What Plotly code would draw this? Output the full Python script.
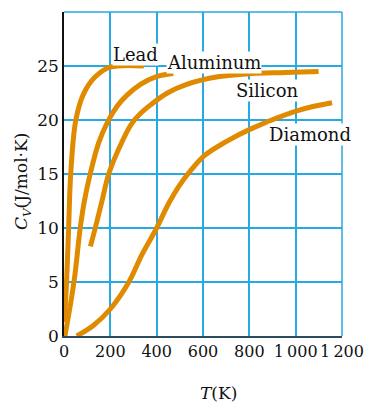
import plotly.graph_objects as go

# Data (T in K, C_V in J/mol·K)
lead_T = [1, 11, 20, 29, 51, 84, 135, 200, 345]
lead_C = [1.3, 5, 10, 15, 20, 22.4, 24, 24.9, 25.0]

al_T = [4, 43, 70, 88, 113, 150, 190, 230, 272, 330, 396, 472]
al_C = [0, 5, 10, 12.5, 15, 17.9, 19.9, 21.3, 22.3, 23.3, 24.0, 24.3]

si_T = [114, 135, 164, 193, 240, 290, 330, 374, 446, 530, 664, 809, 954, 1099]
si_C = [8.3, 10, 12.5, 15, 17.5, 19.6, 20.6, 21.4, 22.5, 23.3, 24.0, 24.3, 24.4, 24.5]

dia_T = [55, 128, 200, 280, 338, 400, 450, 500, 550, 606, 700, 809, 1012, 1157]
dia_C = [0, 1.0, 2.5, 5, 7.6, 10, 12.2, 14.0, 15.4, 16.7, 18.0, 19.2, 20.9, 21.6]

x_ticks = [0, 200, 400, 600, 800, 1000, 1200]
x_tick_text = ["0", "200", "400", "600", "800", "1\u2009000", "1\u2009200"]
y_ticks = [0, 5, 10, 15, 20, 25]
y_tick_text = ["0", "5", "10", "15", "20", "25"]

labels = ["Lead", "Aluminum", "Silicon", "Diamond"]
label_T = [309, 646, 879, 1061]
label_C = [26.1, 25.3, 22.7, 18.7]

ORANGE = "#e08a00"
GRID = "#27a9e3"
FONT = "DejaVu Serif"

fig = go.Figure()
for T, C in [(lead_T, lead_C), (al_T, al_C), (si_T, si_C), (dia_T, dia_C)]:
    fig.add_trace(go.Scatter(x=T, y=C, mode="lines",
                             line=dict(color=ORANGE, width=5, shape="spline", smoothing=1.0),
                             showlegend=False, hoverinfo="skip", cliponaxis=False))

for txt, tx, ty in zip(labels, label_T, label_C):
    fig.add_annotation(x=tx, y=ty, xref="x", yref="y", text=txt, showarrow=False,
                       xanchor="center", yanchor="middle",
                       font=dict(family=FONT, size=18, color="#111"),
                       bgcolor="white", borderpad=0)

fig.add_annotation(x=(22 - 64) / 278, y=(336 - 182) / 324, xref="paper", yref="paper",
                   xanchor="center", yanchor="middle",
                   text="<i>C</i><sub><i>V</i></sub>(J/mol·K)", textangle=-90, showarrow=False,
                   font=dict(family=FONT, size=17, color="#111"))
fig.add_annotation(x=(218 - 64) / 278, y=(336 - 393) / 324, xref="paper", yref="paper",
                   xanchor="center", yanchor="middle",
                   text="<i>T</i>(K)", showarrow=False,
                   font=dict(family=FONT, size=17, color="#111"))

# top and right border (T = 1200 and C = 30 grid lines) drawn in grid colour
fig.add_shape(type="line", xref="paper", yref="paper", x0=0, x1=1, y0=1, y1=1,
              line=dict(color=GRID, width=1.5), layer="below")
fig.add_shape(type="line", xref="paper", yref="paper", x0=1, x1=1, y0=0, y1=1,
              line=dict(color=GRID, width=1.5), layer="below")

fig.update_layout(
    width=369, height=403,
    margin=dict(l=64, r=27, t=12, b=67),
    paper_bgcolor="white", plot_bgcolor="white",
    font=dict(family=FONT, size=17, color="#111"),
    xaxis=dict(range=[0, 1200], tickvals=x_ticks, ticktext=x_tick_text, tickangle=0,
               automargin=False,
               showgrid=True, gridcolor=GRID, gridwidth=1.5, zeroline=False,
               showline=True, linecolor="#2d4b5c", linewidth=2, ticks="",
               tickfont=dict(family=FONT, size=16, color="#111")),
    yaxis=dict(range=[0, 30], tickvals=y_ticks, ticktext=y_tick_text,
               automargin=False,
               showgrid=True, gridcolor=GRID, gridwidth=1.5, zeroline=False,
               showline=True, linecolor="#111", linewidth=1.5, ticks="",
               tickfont=dict(family=FONT, size=17, color="#111")),
)

fig.write_html("out.html", config={"displayModeBar": False},
               post_script="document.body.style.margin='0';document.body.style.overflow='hidden';")
